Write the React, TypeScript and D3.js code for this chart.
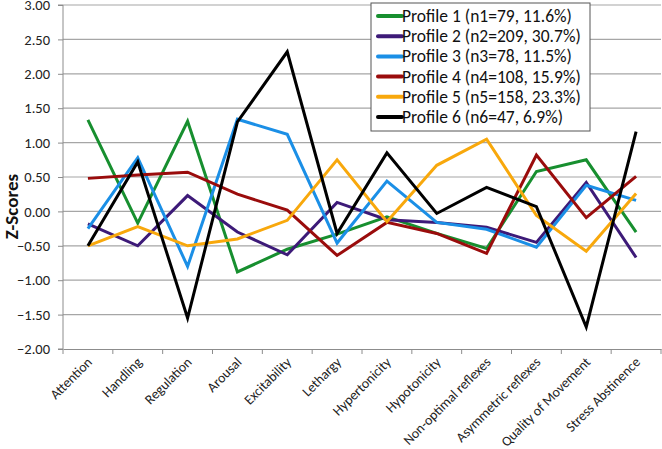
import * as d3 from 'd3';
import { useEffect, useRef } from 'react';

const categories = [
  'Attention', 'Handling', 'Regulation', 'Arousal', 'Excitability', 'Lethargy',
  'Hypertonicity', 'Hypotonicity', 'Non-optimal reflexes', 'Asymmetric reflexes',
  'Quality of Movement', 'Stress Abstinence',
];

const profileNames = [
  'Profile 1 (n1=79, 11.6%)',
  'Profile 2 (n2=209, 30.7%)',
  'Profile 3 (n3=78, 11.5%)',
  'Profile 4 (n4=108, 15.9%)',
  'Profile 5 (n5=158, 23.3%)',
  'Profile 6 (n6=47, 6.9%)',
];

const profile1 = [1.33, -0.17, 1.31, -0.88, -0.55, -0.33, -0.08, -0.32, -0.54, 0.58, 0.75, -0.30];
const profile2 = [-0.18, -0.50, 0.23, -0.30, -0.63, 0.13, -0.12, -0.16, -0.23, -0.45, 0.42, -0.67];
const profile3 = [-0.25, 0.78, -0.80, 1.34, 1.12, -0.46, 0.44, -0.16, -0.26, -0.52, 0.38, 0.16];
const profile4 = [0.48, 0.53, 0.57, 0.25, 0.02, -0.64, -0.16, -0.32, -0.61, 0.82, -0.09, 0.51];
const profile5 = [-0.50, -0.22, -0.50, -0.40, -0.13, 0.75, -0.15, 0.67, 1.05, -0.06, -0.58, 0.26];
const profile6 = [-0.50, 0.72, -1.55, 1.30, 2.32, -0.32, 0.85, -0.03, 0.35, 0.07, -1.68, 1.16];

const series = [profile1, profile2, profile3, profile4, profile5, profile6];
const colors = ['#178f2f', '#3d1a78', '#1b8fe6', '#9a0c0c', '#f8a80c', '#000000'];

const yTicks = [3, 2.5, 2, 1.5, 1, 0.5, 0, -0.5, -1, -1.5, -2];

export default function App() {
  const svgRef = useRef<SVGSVGElement | null>(null);

  useEffect(() => {
    if (!svgRef.current) return;
    const width = 662;
    const height = 449;
    const margin = { top: 5, right: 1, bottom: 100, left: 63 };
    const innerWidth = width - margin.left - margin.right;
    const innerHeight = height - margin.top - margin.bottom;
    const font = 'Carlito, "Liberation Sans", Arial, sans-serif';

    const root = d3.select(svgRef.current).html('');
    const svg = root.append('g').attr('transform', `translate(${margin.left},${margin.top})`);

    const x = d3.scaleBand<string>().domain(categories).range([0, innerWidth]);
    const y = d3.scaleLinear().domain([-2, 3]).range([innerHeight, 0]);

    // gridlines
    svg.append('g')
      .selectAll('line')
      .data(yTicks.filter(t => t !== -2))
      .enter().append('line')
      .attr('x1', 0)
      .attr('x2', innerWidth)
      .attr('y1', d => y(d))
      .attr('y2', d => y(d))
      .attr('stroke', '#a6a6a6')
      .attr('stroke-width', 1.2);

    // y axis
    const yAxis = svg.append('g')
      .call(d3.axisLeft(y).tickValues(yTicks).tickFormat(d3.format('.2f')).tickSize(5).tickPadding(8));
    yAxis.selectAll('line').attr('stroke', '#8c8c8c');
    yAxis.select('.domain').attr('stroke', '#8c8c8c').attr('d', `M-5,${innerHeight}H0V0H-5`);
    yAxis.selectAll('text')
      .attr('font-family', font)
      .attr('font-size', 14.5)
      .attr('fill', '#222');

    // x axis
    const xAxis = svg.append('g')
      .attr('transform', `translate(0,${innerHeight})`)
      .call(d3.axisBottom(x).tickSize(0).tickFormat(() => ''));
    xAxis.select('.domain').attr('stroke', '#8c8c8c');
    svg.append('g')
      .attr('transform', `translate(0,${innerHeight})`)
      .selectAll('line')
      .data(d3.range(categories.length + 1))
      .enter().append('line')
      .attr('x1', i => i * x.bandwidth())
      .attr('x2', i => i * x.bandwidth())
      .attr('y1', 0)
      .attr('y2', 5)
      .attr('stroke', '#8c8c8c');

    svg.append('g')
      .selectAll('text')
      .data(categories)
      .enter().append('text')
      .attr('transform', d => `translate(${(x(d) ?? 0) + x.bandwidth() / 2 + 5},${innerHeight + 14}) rotate(-45)`)
      .attr('text-anchor', 'end')
      .attr('font-family', font)
      .attr('font-size', 13.8)
      .attr('fill', '#222')
      .text(d => d);

    // y label
    svg.append('text')
      .attr('transform', 'rotate(-90)')
      .attr('x', -(y(0.07)))
      .attr('y', -45)
      .attr('text-anchor', 'middle')
      .attr('font-family', font)
      .attr('font-weight', 'bold')
      .attr('font-size', 19)
      .attr('fill', '#111')
      .text('Z-Scores');

    const line = d3.line<number>()
      .x((_, i) => (x(categories[i]) ?? 0) + x.bandwidth() / 2)
      .y(d => y(d));

    series.forEach((s, k) => {
      svg.append('path')
        .datum(s)
        .attr('fill', 'none')
        .attr('stroke', colors[k])
        .attr('stroke-width', 3)
        .attr('stroke-linejoin', 'miter')
        .attr('d', line);
    });

    // legend
    const legend = root.append('g').attr('transform', 'translate(371,3)');
    legend.append('rect')
      .attr('x', 0)
      .attr('y', 0)
      .attr('width', 219)
      .attr('height', 128)
      .attr('fill', '#fff')
      .attr('stroke', '#555')
      .attr('stroke-width', 1);
    profileNames.forEach((name, k) => {
      const g = legend.append('g').attr('transform', `translate(0,${13 + k * 20.2})`);
      g.append('line')
        .attr('x1', 7)
        .attr('x2', 31)
        .attr('y1', 0)
        .attr('y2', 0)
        .attr('stroke', colors[k])
        .attr('stroke-width', 4)
        .attr('stroke-linecap', 'round');
      g.append('text')
        .attr('x', 31)
        .attr('y', 6)
        .attr('font-family', font)
        .attr('font-size', 17.5)
        .attr('fill', '#111')
        .text(name);
    });
  }, []);

  return <svg ref={svgRef} width={662} height={449} style={{ display: 'block', position: 'absolute', left: 0, top: 0 }} />;
}
